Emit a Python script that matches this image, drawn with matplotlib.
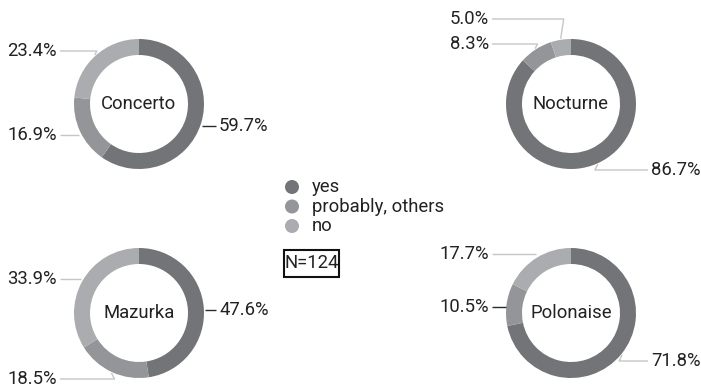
import numpy as np
import matplotlib
matplotlib.use("Agg")
import matplotlib.pyplot as plt
from matplotlib.patches import Circle, Rectangle

plt.rcParams['font.family'] = ['Roboto', 'DejaVu Sans']

# ---- data ----
categories = ["yes", "probably, others", "no"]
pieces = ["Concerto", "Nocturne", "Mazurka", "Polonaise"]
concerto = [59.7, 16.9, 23.4]
nocturne = [86.7, 8.3, 5.0]
mazurka = [47.6, 18.5, 33.9]
polonaise = [71.8, 10.5, 17.7]
sample_note = "N=124"

series = [concerto, nocturne, mazurka, polonaise]

# ---- styling / layout (pixel units, y measured from top) ----
W, H = 701, 385
colors = ["#737478", "#949598", "#abacaf"]
text_color = "#222222"
fs = 13.3
centers = [(139, 104), (571, 104), (139, 313), (571, 313)]
r_out, ring = 65, 16
# label vertical positions (px from top) per donut, per category
label_y = [[126, 135, 51], [170, 44, 19], [310, 379, 279], [361, 307, 254]]
# leader line tone per donut, per category (True = dark)
dark_leader = [[True, False, False], [False, False, False],
               [True, False, False], [False, True, False]]


def Y(y):
    return H - y


fig = plt.figure(figsize=(W / 100, H / 100), dpi=100)
ax = fig.add_axes([0, 0, 1, 1])

for name, vals, (cx, cy), ly, dk in zip(pieces, series, centers, label_y,
                                         dark_leader):
    ax.pie(vals, colors=colors, center=(cx, Y(cy)), radius=r_out,
           startangle=90, counterclock=False, frame=True,
           wedgeprops=dict(width=ring, linewidth=0))
    ax.text(cx, Y(cy), name, ha="center", va="center", fontsize=fs,
            color=text_color)

    total = sum(vals)
    start = 0.0
    for v, lab_y, is_dark in zip(vals, ly, dk):
        mid = (start + v / 2) / total * 2 * np.pi  # clockwise from top
        start += v
        ax_x = cx + (r_out + 1) * np.sin(mid)
        ax_y = cy - (r_out + 1) * np.cos(mid)
        side = 1 if np.sin(mid) > 0 else -1
        tx = cx + 80 if side > 0 else cx - 82
        edge = tx - 3 * side
        lc = "#2a2a2a" if is_dark else "#c6c6c6"
        if abs(lab_y - ax_y) < 3.5:
            xs, ys = [ax_x, edge], [lab_y, lab_y]
        else:
            ex = ax_x - side * min(3, abs(lab_y - ax_y) * 0.5)
            xs, ys = [ax_x, ex, edge], [ax_y, lab_y, lab_y]
        ax.plot(xs, [Y(y) for y in ys], color=lc, lw=1.0,
                solid_capstyle="butt")
        ax.text(tx, Y(lab_y), f"{v:.1f}%", ha="left" if side > 0 else "right",
                va="center", fontsize=fs, color=text_color)

# legend
for i, (cat, col) in enumerate(zip(categories, colors)):
    yy = 187 + i * 19.5
    ax.add_patch(Circle((292, Y(yy)), 7, color=col, lw=0))
    ax.text(312, Y(yy), cat, ha="left", va="center", fontsize=fs,
            color=text_color)

# sample size box
ax.add_patch(Rectangle((284, Y(277)), 55, 27, fill=False, ec="#111111",
                       lw=1.5))
ax.text(311.5, Y(263.5), sample_note, ha="center", va="center", fontsize=fs,
        color=text_color)

ax.set_xlim(0, W)
ax.set_ylim(0, H)
ax.set_aspect("equal")
ax.axis("off")

fig.savefig("out.png", dpi=100, facecolor="white")
